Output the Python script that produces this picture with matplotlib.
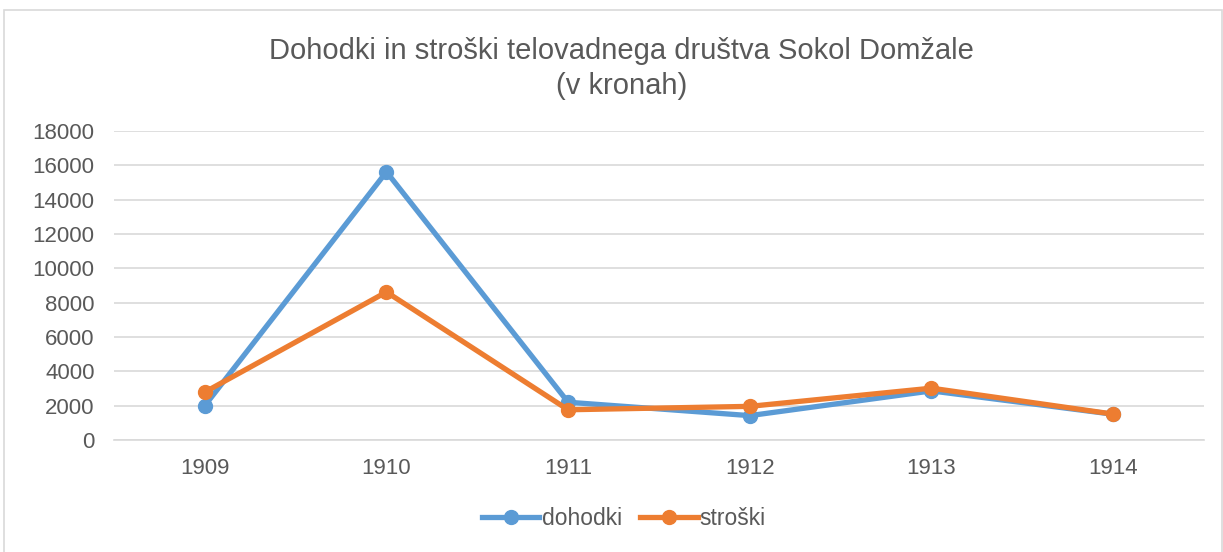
import matplotlib.pyplot as plt
from matplotlib.patches import Rectangle

years = ['1909', '1910', '1911', '1912', '1913', '1914']
dohodki = [2000, 15620, 2200, 1420, 2860, 1500]
stroski = [2790, 8620, 1760, 1960, 3020, 1510]

blue = '#5B9BD5'
orange = '#ED7D31'
txt = '#595959'

plt.rcParams['font.family'] = ['Liberation Sans', 'DejaVu Sans']

fig = plt.figure(figsize=(12.23, 5.52), dpi=100)
ax = fig.add_axes([0.0932, 0.2029, 0.8912, 0.5598])

x = range(len(years))
ax.plot(x, dohodki, color=blue, lw=3.8, marker='o', ms=10, label='dohodki', zorder=3)
ax.plot(x, stroski, color=orange, lw=3.8, marker='o', ms=10, label='stroški', zorder=4)

ax.set_xlim(-0.5, len(years) - 0.5)
ax.set_ylim(0, 18000)
ax.set_yticks(range(0, 18001, 2000))
ax.set_xticks(list(x))
ax.set_xticklabels(years)
ax.grid(True, axis='y', color='#D9D9D9', lw=1.2)
ax.set_axisbelow(True)
for s in ['top', 'right', 'left']:
    ax.spines[s].set_visible(False)
ax.spines['bottom'].set_color('#D9D9D9')
ax.spines['bottom'].set_linewidth(1.2)
ax.tick_params(axis='both', length=0, labelsize=16, colors=txt)
ax.tick_params(axis='y', pad=14)
ax.tick_params(axis='x', pad=13)

fig.text(0.508, 0.876, 'Dohodki in stroški telovadnega društva Sokol Domžale\n(v kronah)',
         ha='center', va='center', fontsize=21, color=txt, linespacing=1.3)

leg = ax.legend(loc='center', bbox_to_anchor=(0.468, -0.255), ncol=2, frameon=False,
                fontsize=16.5, handlelength=2.5, columnspacing=0.8, handletextpad=0.1)
for t in leg.get_texts():
    t.set_color(txt)

fig.patches.append(Rectangle((4 / 1223, -0.01), 1218 / 1223, 1 - 10 / 552 + 0.01,
                             transform=fig.transFigure, fill=False,
                             edgecolor='#D9D9D9', lw=1.2))

fig.savefig('out.png', dpi=100)
